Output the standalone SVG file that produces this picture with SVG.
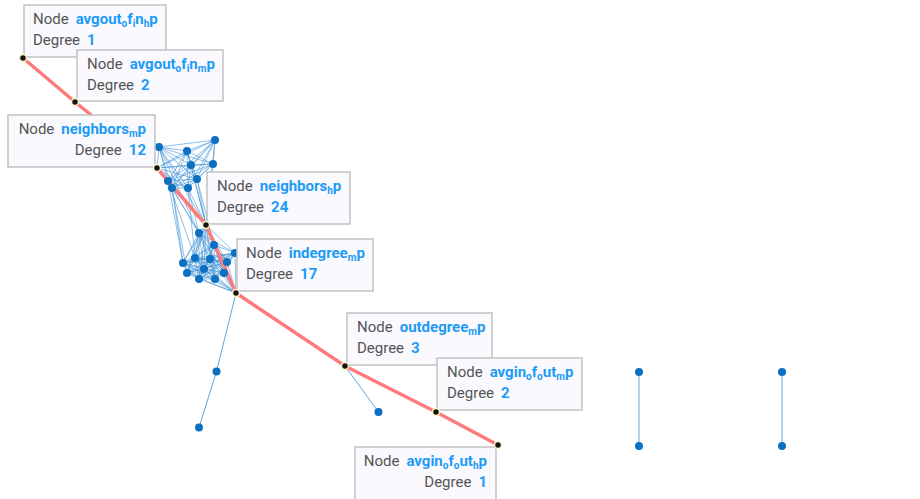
<svg xmlns="http://www.w3.org/2000/svg" width="920" height="499" viewBox="0 0 920 499">
<style>
.e{fill:none;stroke:#3d92d6;stroke-opacity:0.65;stroke-width:0.9}
.e1{fill:none;stroke:#5aa9e0;stroke-width:1}
.hl{fill:none;stroke:#ff7b7b;stroke-width:3.5;stroke-linecap:round}
.bn{fill:#0b6fc2}
.pn{fill:#151515;stroke:#fff7c4;stroke-width:1.5}
.box{fill:#f9f9fe;stroke:#c2c2c2;stroke-width:1.5}
.t{font-family:Roboto,"Liberation Sans",sans-serif;font-size:15px;fill:#555}
.v{font-weight:bold;fill:#1d9bf5}
.s{font-size:10px}
</style>
<rect width="920" height="499" fill="#fff"/>
<g id="connectors">
<path class="e" d="M157 168L159 147M157 168L187 151M157 168L215 140M157 168L191 165M157 168L213 164M157 168L168 181M157 168L197 179M157 168L172 188M157 168L188 188
M159 147L187 151M159 147L215 140M159 147L191 165M159 147L213 164M159 147L168 181M159 147L197 179M159 147L172 188M159 147L188 188M159 147L206 225
M187 151L215 140M187 151L191 165M187 151L213 164M187 151L168 181M187 151L197 179M187 151L172 188M187 151L188 188M187 151L206 225
M215 140L191 165M215 140L213 164M215 140L168 181M215 140L197 179M215 140L172 188M215 140L188 188M215 140L206 225
M191 165L213 164M191 165L168 181M191 165L197 179M191 165L172 188M191 165L188 188M191 165L206 225
M213 164L168 181M213 164L197 179M213 164L172 188M213 164L188 188M213 164L206 225
M168 181L197 179M168 181L172 188M168 181L188 188M168 181L206 225
M197 179L172 188M197 179L188 188M197 179L206 225
M172 188L188 188M172 188L206 225M188 188L206 225
M168 181L199 233M172 188L183 263M188 188L199 233M172 188L199 233M197 179L214 245M168 181L195 258M159 147L199 233M172 188L187 273M188 188L195 258M168 181L183 263"/>
<path class="e" d="M206 225L199 233M206 225L214 245M206 225L235 253M206 225L183 263M206 225L195 258M206 225L210 259M206 225L227 262M206 225L187 273M206 225L204 269M206 225L224 273M206 225L199 279M206 225L215 279
M199 233L214 245M199 233L235 253M199 233L183 263M199 233L195 258M199 233L210 259M199 233L227 262M199 233L187 273M199 233L204 269M199 233L224 273M199 233L199 279M199 233L215 279M199 233L236 293
M214 245L235 253M214 245L183 263M214 245L195 258M214 245L210 259M214 245L227 262M214 245L187 273M214 245L204 269M214 245L224 273M214 245L199 279M214 245L215 279M214 245L236 293
M235 253L183 263M235 253L195 258M235 253L210 259M235 253L227 262M235 253L187 273M235 253L204 269M235 253L224 273M235 253L199 279M235 253L215 279M235 253L236 293
M183 263L195 258M183 263L210 259M183 263L227 262M183 263L187 273M183 263L204 269M183 263L224 273M183 263L199 279M183 263L215 279M183 263L236 293
M195 258L210 259M195 258L227 262M195 258L187 273M195 258L204 269M195 258L224 273M195 258L199 279M195 258L215 279M195 258L236 293
M210 259L227 262M210 259L187 273M210 259L204 269M210 259L224 273M210 259L199 279M210 259L215 279M210 259L236 293
M227 262L187 273M227 262L204 269M227 262L224 273M227 262L199 279M227 262L215 279M227 262L236 293
M187 273L204 269M187 273L224 273M187 273L199 279M187 273L215 279M187 273L236 293
M204 269L224 273M204 269L199 279M204 269L215 279M204 269L236 293
M224 273L199 279M224 273L215 279M224 273L236 293
M199 279L215 279M199 279L236 293M215 279L236 293"/>
<path class="e1" d="M236 293L216.5 371.5L199 427.5M345 366L378.5 412M639 372L639 446M782 372L782 446"/>
<path class="hl" d="M23 58L75 102L157 168L206 225L236 293L345 366L436 412L498 445"/>
</g>
<g id="blue-nodes">
<circle class="bn" cx="159" cy="147" r="4"/><circle class="bn" cx="187" cy="151" r="4"/><circle class="bn" cx="215" cy="140" r="4"/>
<circle class="bn" cx="191" cy="165" r="4"/><circle class="bn" cx="213" cy="164" r="4"/><circle class="bn" cx="168" cy="181" r="4"/>
<circle class="bn" cx="197" cy="179" r="4"/><circle class="bn" cx="172" cy="188" r="4"/><circle class="bn" cx="188" cy="188" r="4"/>
<circle class="bn" cx="199" cy="233" r="4"/><circle class="bn" cx="214" cy="245" r="4"/><circle class="bn" cx="235" cy="253" r="4"/>
<circle class="bn" cx="183" cy="263" r="4"/><circle class="bn" cx="195" cy="258" r="4"/><circle class="bn" cx="210" cy="259" r="4"/>
<circle class="bn" cx="227" cy="262" r="4"/><circle class="bn" cx="187" cy="273" r="4"/><circle class="bn" cx="204" cy="269" r="4"/>
<circle class="bn" cx="224" cy="273" r="4"/><circle class="bn" cx="199" cy="279" r="4"/><circle class="bn" cx="215" cy="279" r="4"/>
<circle class="bn" cx="216.5" cy="371.5" r="4"/><circle class="bn" cx="199" cy="427.5" r="4"/><circle class="bn" cx="378.5" cy="412" r="4"/>
<circle class="bn" cx="639" cy="372" r="4"/><circle class="bn" cx="639" cy="446" r="4"/><circle class="bn" cx="782" cy="372" r="4"/><circle class="bn" cx="782" cy="446" r="4"/>
</g>
<g id="label-avgout_of_in_hp">
<rect class="box" x="24" y="5" width="142" height="52"/>
<text class="t" x="33" y="24">Node<tspan class="v" dx="7">avgout</tspan><tspan class="v s" dy="3">o</tspan><tspan class="v" dy="-3">f</tspan><tspan class="v s" dy="3">i</tspan><tspan class="v" dy="-3">n</tspan><tspan class="v s" dy="3">h</tspan><tspan class="v" dy="-3">p</tspan></text>
<text class="t" x="33" y="45">Degree<tspan class="v" dx="7">1</tspan></text>
</g>
<g id="label-avgout_of_in_mp">
<rect class="box" x="77" y="50" width="146" height="51"/>
<text class="t" x="87" y="69">Node<tspan class="v" dx="7">avgout</tspan><tspan class="v s" dy="3">o</tspan><tspan class="v" dy="-3">f</tspan><tspan class="v s" dy="3">i</tspan><tspan class="v" dy="-3">n</tspan><tspan class="v s" dy="3">m</tspan><tspan class="v" dy="-3">p</tspan></text>
<text class="t" x="87" y="90">Degree<tspan class="v" dx="7">2</tspan></text>
</g>
<g id="label-neighbors_mp">
<rect class="box" x="8" y="115" width="147" height="52"/>
<text class="t" x="146" y="134" text-anchor="end">Node<tspan class="v" dx="7">neighbors</tspan><tspan class="v s" dy="3">m</tspan><tspan class="v" dy="-3">p</tspan></text>
<text class="t" x="146" y="155" text-anchor="end">Degree<tspan class="v" dx="7">12</tspan></text>
</g>
<g id="label-neighbors_hp">
<rect class="box" x="207" y="172" width="143" height="52"/>
<text class="t" x="217" y="191">Node<tspan class="v" dx="7">neighbors</tspan><tspan class="v s" dy="3">h</tspan><tspan class="v" dy="-3">p</tspan></text>
<text class="t" x="217" y="212">Degree<tspan class="v" dx="7">24</tspan></text>
</g>
<g id="label-indegree_mp">
<rect class="box" x="237" y="239" width="136" height="52"/>
<text class="t" x="246" y="258">Node<tspan class="v" dx="7">indegree</tspan><tspan class="v s" dy="3">m</tspan><tspan class="v" dy="-3">p</tspan></text>
<text class="t" x="246" y="279">Degree<tspan class="v" dx="7">17</tspan></text>
</g>
<g id="label-outdegree_mp">
<rect class="box" x="347" y="313" width="145" height="52"/>
<text class="t" x="357" y="332">Node<tspan class="v" dx="7">outdegree</tspan><tspan class="v s" dy="3">m</tspan><tspan class="v" dy="-3">p</tspan></text>
<text class="t" x="357" y="353">Degree<tspan class="v" dx="7">3</tspan></text>
</g>
<g id="label-avgin_of_out_mp">
<rect class="box" x="437" y="358" width="145" height="52"/>
<text class="t" x="447" y="377">Node<tspan class="v" dx="7">avgin</tspan><tspan class="v s" dy="3">o</tspan><tspan class="v" dy="-3">f</tspan><tspan class="v s" dy="3">o</tspan><tspan class="v" dy="-3">ut</tspan><tspan class="v s" dy="3">m</tspan><tspan class="v" dy="-3">p</tspan></text>
<text class="t" x="447" y="398">Degree<tspan class="v" dx="7">2</tspan></text>
</g>
<g id="label-avgin_of_out_hp">
<rect class="box" x="355" y="447" width="141" height="53"/>
<text class="t" x="487" y="466" text-anchor="end">Node<tspan class="v" dx="7">avgin</tspan><tspan class="v s" dy="3">o</tspan><tspan class="v" dy="-3">f</tspan><tspan class="v s" dy="3">o</tspan><tspan class="v" dy="-3">ut</tspan><tspan class="v s" dy="3">h</tspan><tspan class="v" dy="-3">p</tspan></text>
<text class="t" x="487" y="487" text-anchor="end">Degree<tspan class="v" dx="7">1</tspan></text>
</g>
<g id="path-nodes">
<circle id="avgout_of_in_hp" class="pn" cx="23" cy="58" r="3.5"/>
<circle id="avgout_of_in_mp" class="pn" cx="75" cy="102" r="3.5"/>
<circle id="neighbors_mp" class="pn" cx="157" cy="168" r="3.5"/>
<circle id="neighbors_hp" class="pn" cx="206" cy="225" r="3.5"/>
<circle id="indegree_mp" class="pn" cx="236" cy="293" r="3.5"/>
<circle id="outdegree_mp" class="pn" cx="345" cy="366" r="3.5"/>
<circle id="avgin_of_out_mp" class="pn" cx="436" cy="412" r="3.5"/>
<circle id="avgin_of_out_hp" class="pn" cx="498" cy="445" r="3.5"/>
</g>
</svg>
